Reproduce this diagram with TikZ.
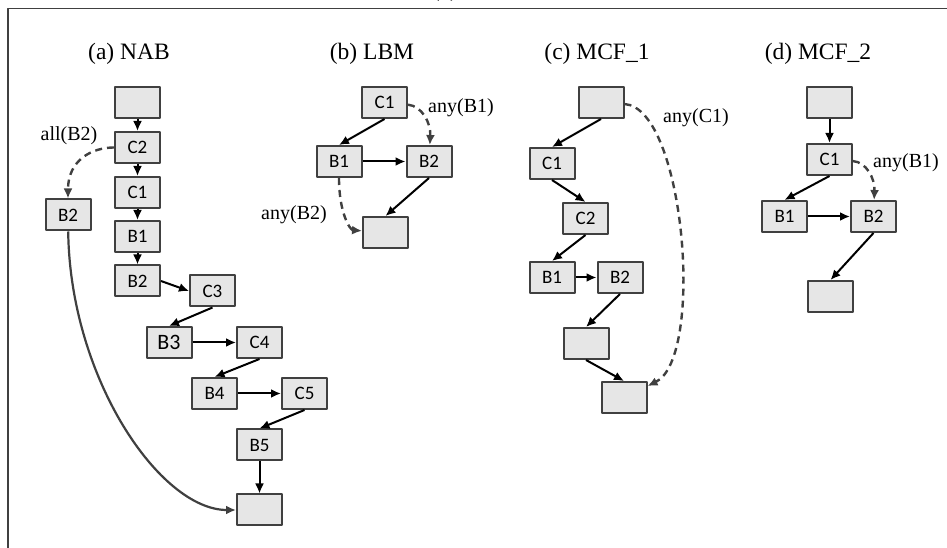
\documentclass[tikz,border=0pt]{standalone}
\usepackage{fontspec}
\setmainfont{Liberation Serif}
\newfontfamily\boxfont{Carlito}
\usetikzlibrary{arrows.meta}
\definecolor{boxfill}{HTML}{E6E6E6}
\definecolor{boxline}{HTML}{404040}
\tikzset{
  blk/.style={draw=boxline,fill=boxfill,line width=2bp,rectangle,
    minimum width=45bp,minimum height=31bp,inner sep=0pt,
    font=\boxfont\fontsize{19bp}{21bp}\selectfont},
  lbl/.style={font=\fontsize{20bp}{22bp}\selectfont,inner sep=0pt},
  ttl/.style={font=\fontsize{23.5bp}{26bp}\selectfont,inner sep=0pt},
  flow/.style={->,line width=2bp,black},
  jump/.style={->,line width=2.4bp,boxline,dash pattern=on 7bp off 5bp},
}
\begin{document}
\begin{tikzpicture}[>={Latex[length=10bp,width=9bp]},line join=bevel,]
    \useasboundingbox (0bp,0bp) rectangle (947bp,548bp);
    \draw [line width=1.8bp,boxline] (8bp,0bp) -- (8bp,539.5bp) -- (947bp,539.5bp);
    \node (top) at (445bp,551bp) [ttl,anchor=base] {(a)};
    %% titles
    \node (ta) at (129bp,494bp) [ttl] {(a) NAB};
    \node (tb) at (372bp,494bp) [ttl] {(b) LBM};
    \node (tc) at (597bp,494bp) [ttl] {(c) MCF\_1};
    \node (td) at (818bp,494bp) [ttl] {(d) MCF\_2};
    %% (a) NAB
    \node (a0) at (137.5bp,445.5bp) [blk] {};
    \node (aC2) at (137.5bp,400.5bp) [blk] {C2};
    \node (aC1) at (137.5bp,355.5bp) [blk] {C1};
    \node (aB1) at (137.5bp,311.5bp) [blk] {B1};
    \node (aB2) at (137.5bp,267.0bp) [blk] {B2};
    \node (aC3) at (212.5bp,257.0bp) [blk] {C3};
    \node (aB3) at (169.0bp,205.5bp) [blk,font=\boxfont\fontsize{22bp}{24bp}\selectfont] {B3};
    \node (aC4) at (259.5bp,205.5bp) [blk] {C4};
    \node (aB4) at (214.5bp,154.5bp) [blk] {B4};
    \node (aC5) at (304.5bp,154.5bp) [blk] {C5};
    \node (aB5) at (259.5bp,103.0bp) [blk] {B5};
    \node (aEnd) at (259.5bp,38.0bp) [blk] {};
    \node (aB2x) at (68.0bp,333.0bp) [blk] {B2};
    \node (aL) at (69.0bp,412.0bp) [lbl] {all(B2)};
    \draw [flow] (a0) -- (aC2);
    \draw [flow] (aC2) -- (aC1);
    \draw [flow] (aC1) -- (aB1);
    \draw [flow] (aB1) -- (aB2);
    \draw [flow] (aB2.east) -- (aC3.west);
    \draw [flow] (aC3.south) -- (aB3.north);
    \draw [flow] (aB3) -- (aC4);
    \draw [flow] (aC4.south) -- (aB4.north);
    \draw [flow] (aB4) -- (aC5);
    \draw [flow] (aC5.south) -- (aB5.north);
    \draw [flow] (aB5) -- (aEnd);
    \draw [jump] (aC2) ..controls (92bp,400.5bp) and (68bp,388bp) .. (aB2x);
    \draw [->,line width=2.2bp,boxline] (aB2x) ..controls (70bp,170bp) and (160bp,38bp) .. (aEnd);
    %% (b) LBM
    \node (bC1) at (384.5bp,445.5bp) [blk] {C1};
    \node (bB1) at (339.0bp,386.5bp) [blk] {B1};
    \node (bB2) at (429.0bp,386.5bp) [blk] {B2};
    \node (bEnd) at (385.5bp,315.5bp) [blk] {};
    \node (bL1) at (461.0bp,440.0bp) [lbl] {any(B1)};
    \node (bL2) at (294.0bp,333.0bp) [lbl] {any(B2)};
    \draw [flow] (bC1.south) -- (bB1.north);
    \draw [flow] (bB1) -- (bB2);
    \draw [flow] (bB2.south) -- (bEnd.north);
    \draw [jump] (bC1) ..controls (422bp,442bp) and (431bp,425bp) .. (bB2);
    \draw [jump] (bB1) ..controls (339bp,335bp) and (350bp,318bp) .. (bEnd);
    %% (c) MCF_1
    \node (c0) at (601.0bp,445.5bp) [blk] {};
    \node (cC1) at (552.0bp,384.5bp) [blk] {C1};
    \node (cC2) at (585.5bp,329.5bp) [blk] {C2};
    \node (cB1) at (552.0bp,270.5bp) [blk] {B1};
    \node (cB2) at (620.0bp,270.5bp) [blk] {B2};
    \node (cE1) at (586.0bp,204.5bp) [blk] {};
    \node (cE2) at (624.0bp,150.5bp) [blk] {};
    \node (cL) at (696.0bp,430.0bp) [lbl] {any(C1)};
    \draw [flow] (c0.south) -- (cC1.north);
    \draw [flow] (cC1.south) -- (cC2.north);
    \draw [flow] (cC2.south) -- (cB1.north);
    \draw [flow] (cB1) -- (cB2);
    \draw [flow] (cB2.south) -- (cE1.north);
    \draw [flow] (cE1.south) -- (cE2.north);
    \draw [jump] (c0) ..controls (685bp,440bp) and (705bp,190bp) .. (cE2);
    %% (d) MCF_2
    \node (d0) at (829.5bp,445.5bp) [blk] {};
    \node (dC1) at (829.5bp,388.5bp) [blk] {C1};
    \node (dB1) at (784.5bp,331.5bp) [blk] {B1};
    \node (dB2) at (873.5bp,331.5bp) [blk] {B2};
    \node (dEnd) at (830.5bp,251.5bp) [blk] {};
    \node (dL) at (906.0bp,385.0bp) [lbl] {any(B1)};
    \draw [flow] (d0) -- (dC1);
    \draw [flow] (dC1.south) -- (dB1.north);
    \draw [flow] (dB1) -- (dB2);
    \draw [flow] (dB2.south) -- (dEnd.north);
    \draw [jump] (dC1) ..controls (866bp,386bp) and (875bp,370bp) .. (dB2);
    %
\end{tikzpicture}
\end{document}
